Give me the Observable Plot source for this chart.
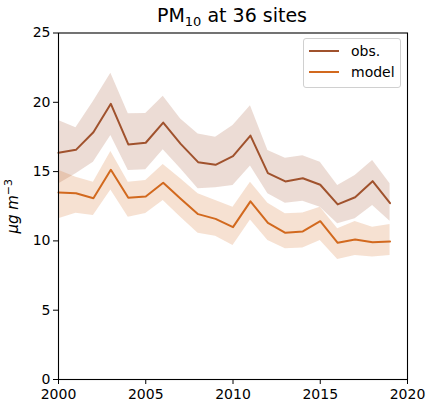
<!DOCTYPE html>
<html>
<head>
<meta charset="utf-8">
<script src="https://cdn.jsdelivr.net/npm/d3@7"></script>
<script src="https://cdn.jsdelivr.net/npm/@observablehq/plot@0.6"></script>
<style>
  html, body { margin: 0; padding: 0; background: #fff; }
  #wrap { position: relative; width: 426px; height: 401px; font-family: "DejaVu Sans", sans-serif; }
  #title { position: absolute; left: 0; top: 4px; width: 464px; text-align: center; font-size: 19px; line-height: 22px; color: #000; }
  #title sub { font-size: 13px; vertical-align: -4px; line-height: 0; }
  #legend { position: absolute; left: 303px; top: 38px; width: 96px; height: 48px; border: 1px solid #d0d0d0; border-radius: 3px; background: rgba(255,255,255,0.8); font-size: 14px; }
  .row { position: absolute; left: 5px; height: 18px; display: flex; align-items: center; }
  .sw { width: 30px; height: 2px; margin-right: 12px; }
</style>
</head>
<body>
<div id="wrap">
  <div id="chart"></div>
  <div id="title">PM<sub>10</sub> at 36 sites</div>
  <div id="legend">
    <div class="row" style="top:3px"><div class="sw" style="background:#a0522d"></div><span>obs.</span></div>
    <div class="row" style="top:24px"><div class="sw" style="background:#d2691e"></div><span>model</span></div>
  </div>
</div>
<script>
const years   = [2000,2001,2002,2003,2004,2005,2006,2007,2008,2009,2010,2011,2012,2013,2014,2015,2016,2017,2018,2019];
const obs     = [16.36,16.57,17.84,19.89,16.96,17.08,18.54,17.0,15.68,15.49,16.11,17.6,14.89,14.29,14.52,14.05,12.63,13.15,14.31,12.72];
const obsHi   = [18.69,18.16,20.06,22.1,19.17,19.2,20.44,18.8,17.72,17.48,18.33,19.76,16.52,15.97,16.14,15.68,14.0,14.72,15.8,14.12];
const obsLo   = [14.1,14.84,15.68,17.6,15.08,15.13,16.57,15.2,13.76,13.83,14.0,15.4,13.4,12.72,12.86,12.43,11.23,11.59,12.55,11.42];
const model   = [13.49,13.44,13.08,15.13,13.11,13.2,14.19,13.04,11.93,11.59,10.99,12.85,11.3,10.58,10.68,11.42,9.86,10.1,9.91,9.96];
const modelHi = [15.1,14.6,14.24,16.45,14.24,14.36,15.51,14.48,13.4,12.91,12.43,14.24,12.72,11.95,12.02,12.43,10.87,11.4,10.99,11.18];
const modelLo = [11.59,12.0,11.83,13.68,11.71,11.97,12.91,11.71,10.56,10.34,9.67,11.5,10.03,9.43,9.48,10.03,8.66,8.95,8.83,8.95];
const xTicks = [2000,2005,2010,2015,2020];
const yTicks = [0,5,10,15,20,25];

const data = years.map((yr, i) => ({year: yr, obs: obs[i], obsHi: obsHi[i], obsLo: obsLo[i], model: model[i], modelHi: modelHi[i], modelLo: modelLo[i]}));

const obsColor = "#a0522d";
const modelColor = "#d2691e";

const chart = Plot.plot({
  width: 426,
  height: 401,
  marginLeft: 58,
  marginRight: 19,
  marginTop: 32.5,
  marginBottom: 22,
  style: {fontFamily: "DejaVu Sans, sans-serif", fontSize: "14px", color: "#000", background: "#fff"},
  x: {domain: [2000, 2020]},
  y: {domain: [0, 25]},
  marks: [
    Plot.areaY(data, {x: "year", y1: "obsLo", y2: "obsHi", fill: obsColor, fillOpacity: 0.2}),
    Plot.areaY(data, {x: "year", y1: "modelLo", y2: "modelHi", fill: modelColor, fillOpacity: 0.2}),
    Plot.line(data, {x: "year", y: "obs", stroke: obsColor, strokeWidth: 2}),
    Plot.line(data, {x: "year", y: "model", stroke: modelColor, strokeWidth: 2}),
    Plot.frame({stroke: "#000", strokeWidth: 1.1}),
    Plot.axisX({ticks: xTicks, tickFormat: d => String(d), tickSize: 5, tickPadding: 5, label: null, fontSize: 14}),
    Plot.axisY({ticks: yTicks, tickSize: 5, tickPadding: 3, label: "μg m-3", labelAnchor: "center", labelArrow: "none", labelOffset: 50, fontSize: 14})
  ]
});
document.getElementById("chart").appendChild(chart);
const lab = d3.select(chart).select('[aria-label="y-axis label"] text');
lab.text(null);
lab.append("tspan").attr("font-style", "italic").attr("font-size", 15).text("μg m");
lab.append("tspan").attr("font-size", 11).attr("dy", "-0.6em").text("−3");
</script>
</body>
</html>
